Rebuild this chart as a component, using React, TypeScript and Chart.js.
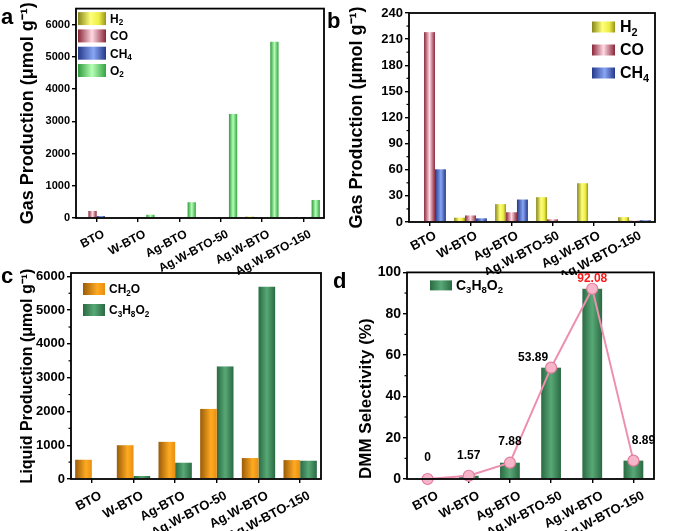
import React, { useEffect, useRef } from 'react';
import { Chart, registerables } from 'chart.js';

Chart.register(...registerables);

const categories = ['BTO', 'W-BTO', 'Ag-BTO', 'Ag.W-BTO-50', 'Ag.W-BTO', 'Ag.W-BTO-150'];

// Gas products (µmol g-1)
const h2Values = [0, 5, 20.5, 28.5, 44.5, 5.5];
const coValues = [218, 7.5, 11.2, 3, 0.5, 1.5];
const ch4Values = [60.5, 4.2, 25.8, 0, 0, 2];
const o2Values = [0, 100, 490, 3230, 5470, 560];

// Liquid products (µmol g-1)
const ch2oValues = [570, 1000, 1100, 2075, 620, 560];
const c3h8o2Values = [0, 89, 482, 3333, 5693, 541];

// DMM selectivity (%)
const selectivityValues = [0, 1.57, 7.88, 53.89, 92.08, 8.89];

// y-axis tick labels
const yTicksA = [0, 1000, 2000, 3000, 4000, 5000, 6000];
const yTicksB = [0, 30, 60, 90, 120, 150, 180, 210, 240];
const yTicksC = [0, 1000, 2000, 3000, 4000, 5000, 6000];
const yTicksD = [0, 20, 40, 60, 80, 100];

// axis ranges
const axisA = { max: 6500, minor: 0 };
const axisB = { max: 240, minor: 15 };
const axisC = { max: 6100, minor: 500 };
const axisD = { max: 100, minor: 10 };

const FONT = '"Liberation Sans", Arial, Helvetica, sans-serif';

type Stops = [number, string][];
const GRAD: Record<string, Stops> = {
  h2: [[0, '#87861a'], [0.45, '#ffff7a'], [0.75, '#eded45'], [1, '#96951c']],
  co: [[0, '#8a2638'], [0.5, '#ffd9e3'], [1, '#8a2638']],
  ch4: [[0, '#24388a'], [0.55, '#88a6f4'], [1, '#24388a']],
  o2: [[0, '#2e9a3c'], [0.5, '#b6ffb6'], [1, '#34a442']],
  ch2o: [[0, '#9a5c08'], [0.65, '#ffaa22'], [1, '#e88e12']],
  c3: [[0, '#2a6a42'], [0.5, '#58a876'], [1, '#2a6a42']],
};

function addStops(g: CanvasGradient, stops: Stops) {
  stops.forEach(([o, c]) => g.addColorStop(o, c));
  return g;
}

function drawRich(ctx: CanvasRenderingContext2D, text: string, x: number, y: number, size: number) {
  const parts = text.split(/(_\d+)/).filter(Boolean);
  let cx = x;
  for (const p of parts) {
    if (p.startsWith('_')) {
      const s = p.slice(1);
      ctx.font = `bold ${size * 0.68}px ${FONT}`;
      ctx.fillText(s, cx, y + size * 0.3);
      cx += ctx.measureText(s).width;
    } else {
      ctx.font = `bold ${size}px ${FONT}`;
      ctx.fillText(p, cx, y);
      cx += ctx.measureText(p).width;
    }
  }
}

const barGradientPlugin = {
  id: 'barGradient',
  afterDatasetDraw(chart: any, args: any) {
    const meta = args.meta;
    if (meta.type !== 'bar') return;
    const ds = chart.data.datasets[args.index];
    const stops: Stops = ds.gradStops;
    if (!stops) return;
    const ctx = chart.ctx;
    ctx.save();
    meta.data.forEach((el: any) => {
      const { x, y, base, width } = el.getProps(['x', 'y', 'base', 'width'], true);
      const l = x - width / 2;
      const top = Math.min(y, base);
      const h = Math.abs(base - y);
      if (h <= 0) return;
      ctx.fillStyle = addStops(ctx.createLinearGradient(l, 0, l + width, 0), stops);
      ctx.fillRect(l, top, width, h);
    });
    ctx.restore();
  },
};

const framePlugin = {
  id: 'frame',
  afterDraw(chart: any, _args: any, opts: any) {
    const { ctx, chartArea } = chart;
    const { left, right, top, bottom } = chartArea;
    ctx.save();
    ctx.strokeStyle = '#000';
    ctx.lineWidth = 1.8;
    ctx.strokeRect(left, top, right - left, bottom - top);
    if (opts && opts.minor && opts.ticks) {
      const ys = chart.scales.y;
      ctx.lineWidth = 1.2;
      for (let v = opts.minor; v < ys.max; v += opts.minor) {
        if (opts.ticks.includes(v)) continue;
        const py = ys.getPixelForValue(v);
        ctx.beginPath();
        ctx.moveTo(left - 2.5, py);
        ctx.lineTo(left, py);
        ctx.stroke();
      }
    }
    ctx.restore();
  },
};

const legendPlugin = {
  id: 'customLegend',
  afterDraw(chart: any, _args: any, opts: any) {
    if (!opts || opts.x === undefined) return;
    const { ctx, chartArea } = chart;
    const items = chart.data.datasets.filter((d: any) => d.gradStops && !d.hideInLegend);
    ctx.save();
    ctx.textBaseline = 'middle';
    ctx.textAlign = 'left';
    items.forEach((d: any, i: number) => {
      const bx = chartArea.left + opts.x;
      const cy = chartArea.top + opts.y + i * opts.rowH;
      ctx.fillStyle = addStops(ctx.createLinearGradient(bx, 0, bx + opts.boxW, 0), d.gradStops);
      ctx.fillRect(bx, cy - opts.boxH / 2, opts.boxW, opts.boxH);
      ctx.fillStyle = '#000';
      drawRich(ctx, d.label, bx + opts.boxW + opts.gap, cy + 1, opts.font);
    });
    ctx.restore();
  },
};

const pointLabelPlugin = {
  id: 'pointLabels',
  afterDraw(chart: any, _args: any, opts: any) {
    if (!opts || !opts.offsets) return;
    const { ctx } = chart;
    const idx = chart.data.datasets.findIndex((d: any) => d.type === 'line');
    if (idx < 0) return;
    const meta = chart.getDatasetMeta(idx);
    const values = chart.data.datasets[idx].data;
    ctx.save();
    ctx.textAlign = 'center';
    ctx.textBaseline = 'middle';
    ctx.font = `bold ${opts.font}px ${FONT}`;
    meta.data.forEach((pt: any, i: number) => {
      const [dx, dy] = opts.offsets[i];
      ctx.fillStyle = i === opts.highlight ? '#ff1a1a' : '#000';
      ctx.fillText(String(values[i]), pt.x + dx, pt.y + dy);
    });
    ctx.restore();
  },
};

function barDs(label: string, data: number[], stops: Stops, extra: any = {}) {
  return {
    type: 'bar',
    label,
    data,
    gradStops: stops,
    backgroundColor: 'rgba(0,0,0,0)',
    borderWidth: 0,
    categoryPercentage: 0.8,
    barPercentage: 1,
    ...extra,
  };
}

function yScale(o: any) {
  return {
    min: 0,
    max: o.max,
    afterBuildTicks: (s: any) => {
      s.ticks = o.ticks.map((v: number) => ({ value: v }));
    },
    ticks: {
      color: '#000',
      padding: 2,
      callback: (v: any) => String(v),
      font: { family: FONT, size: o.font, weight: 'bold' },
    },
    grid: { drawOnChartArea: false, drawTicks: true, tickLength: 4, color: '#000', lineWidth: 1.4 },
    border: { display: false },
    title: {
      display: true,
      text: o.title,
      color: '#000',
      align: o.align || 'center',
      font: { family: FONT, size: o.titleSize, weight: 'bold' },
      padding: { top: o.titlePad, bottom: 0 },
    },
    afterFit: (s: any) => {
      s.width = o.width;
    },
  };
}

function xScale(o: any) {
  return {
    type: 'category',
    offset: true,
    ticks: {
      color: '#000',
      autoSkip: false,
      maxRotation: 28,
      minRotation: 28,
      padding: o.pad,
      labelOffset: o.shift,
      font: { family: FONT, size: o.font, weight: 'bold' },
    },
    grid: { offset: false, drawOnChartArea: false, drawTicks: true, tickLength: 4, color: '#000', lineWidth: 1.4 },
    border: { display: false },
    afterFit: (s: any) => {
      s.height = o.height;
    },
  };
}

function baseOptions(o: any) {
  return {
    responsive: false,
    maintainAspectRatio: false,
    animation: false,
    devicePixelRatio: 1,
    layout: { padding: { left: 0, top: o.top, right: o.right, bottom: 0 } },
    plugins: {
      legend: { display: false },
      tooltip: { enabled: false },
      frame: o.frame || {},
      customLegend: o.legend || {},
      pointLabels: o.pointLabels || {},
    },
    scales: { x: xScale(o.x), y: yScale(o.y) },
  };
}

const plugins = [barGradientPlugin, framePlugin, legendPlugin, pointLabelPlugin];

const makeA = () => ({
  type: 'bar',
  data: {
    labels: categories,
    datasets: [
      barDs('H_2', h2Values, GRAD.h2),
      barDs('CO', coValues, GRAD.co),
      barDs('CH_4', ch4Values, GRAD.ch4),
      barDs('O_2', o2Values, GRAD.o2),
    ],
  },
  options: baseOptions({
    top: 7,
    right: 13,
    x: { font: 12, height: 275 - 218, pad: 5, shift: 7 },
    y: { max: axisA.max, ticks: yTicksA, font: 11, title: 'Gas Production (μmol g⁻¹)', titleSize: 18, titlePad: 17, width: 76 },
    frame: { minor: axisA.minor, ticks: yTicksA },
    legend: { x: 2, y: 10, rowH: 17.3, boxW: 28, boxH: 13, gap: 4, font: 12 },
  }),
  plugins,
});

const makeB = () => ({
  type: 'bar',
  data: {
    labels: categories,
    datasets: [
      barDs('H_2', h2Values, GRAD.h2),
      barDs('CO', coValues, GRAD.co),
      barDs('CH_4', ch4Values, GRAD.ch4),
    ],
  },
  options: baseOptions({
    top: 13,
    right: 20,
    x: { font: 13, height: 275 - 222, pad: 2, shift: 6 },
    y: { max: axisB.max, ticks: yTicksB, font: 13, title: 'Gas Production (μmol g⁻¹)', titleSize: 18, titlePad: 9, width: 72 },
    frame: { minor: axisB.minor, ticks: yTicksB },
    legend: { x: 183, y: 14, rowH: 23, boxW: 23, boxH: 11, gap: 5, font: 16 },
  }),
  plugins,
});

const makeC = () => ({
  type: 'bar',
  data: {
    labels: categories,
    datasets: [barDs('CH_2O', ch2oValues, GRAD.ch2o), barDs('C_3H_8O_2', c3h8o2Values, GRAD.c3)],
  },
  options: baseOptions({
    top: 11,
    right: 16,
    x: { font: 13, height: 269 - 217, pad: 5, shift: 9 },
    y: { max: axisC.max, ticks: yTicksC, font: 13, title: 'Liquid Production (μmol g⁻¹)', titleSize: 16, titlePad: 18, width: 71 },
    frame: { minor: axisC.minor, ticks: yTicksC },
    legend: { x: 12, y: 16, rowH: 21, boxW: 22, boxH: 12, gap: 4, font: 12 },
  }),
  plugins,
});

const makeD = () => ({
  type: 'bar',
  data: {
    labels: categories,
    datasets: [
      {
        type: 'line',
        label: 'line',
        data: selectivityValues,
        borderColor: '#ee8fb0',
        borderWidth: 2,
        pointRadius: 5.5,
        pointBackgroundColor: '#f6b5c9',
        pointBorderColor: '#e27c9e',
        pointBorderWidth: 1.2,
        tension: 0,
        clip: false,
        order: 0,
        hideInLegend: true,
      },
      barDs('C_3H_8O_2', selectivityValues, GRAD.c3, { order: 1, barPercentage: 0.6 }),
    ],
  },
  options: baseOptions({
    top: 8,
    right: 21,
    x: { font: 13, height: 269 - 217, pad: 5, shift: 10 },
    y: {
      max: axisD.max,
      ticks: yTicksD,
      font: 14,
      title: 'DMM Selectivity (%)',
      titleSize: 17,
      titlePad: 19,
      width: 70,
      align: 'start',
    },
    frame: { minor: axisD.minor, ticks: yTicksD },
    legend: { x: 23, y: 13, rowH: 20, boxW: 22, boxH: 10, gap: 4, font: 14 },
    pointLabels: {
      font: 12,
      highlight: 4,
      offsets: [[0, -21], [0, -20], [0, -21], [-18, -10], [0, -10], [10, -20]],
    },
  }),
  plugins,
});

function ChartPanel({ make, left, top, width, height }: any) {
  const ref = useRef<HTMLCanvasElement>(null);
  useEffect(() => {
    const chart = new Chart(ref.current as HTMLCanvasElement, make());
    return () => chart.destroy();
  }, []);
  return (
    <canvas
      ref={ref}
      width={width}
      height={height}
      style={{ position: 'absolute', left, top, width, height }}
    />
  );
}

const letterStyle = (left: number, top: number): React.CSSProperties => ({
  position: 'absolute',
  left,
  top,
  fontFamily: FONT,
  fontWeight: 'bold',
  fontSize: 22,
  lineHeight: 1,
  color: '#000',
});

export default function App() {
  return (
    <div
      style={{
        position: 'fixed',
        left: 0,
        top: 0,
        width: 675,
        height: 531,
        background: '#fff',
        overflow: 'hidden',
      }}
    >
      <ChartPanel make={makeA} left={0} top={0} width={337} height={275} />
      <ChartPanel make={makeB} left={337} top={0} width={338} height={275} />
      <ChartPanel make={makeC} left={0} top={262} width={337} height={269} />
      <ChartPanel make={makeD} left={337} top={262} width={338} height={269} />
      <div style={letterStyle(1, 6)}>a</div>
      <div style={letterStyle(327, 10)}>b</div>
      <div style={letterStyle(1, 265)}>c</div>
      <div style={letterStyle(333, 270)}>d</div>
    </div>
  );
}
